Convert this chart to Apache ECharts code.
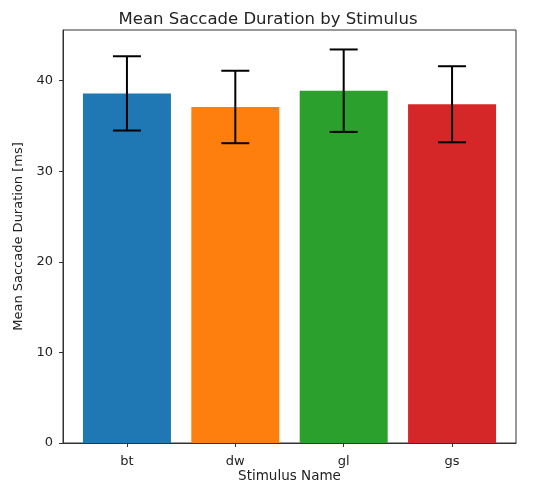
<!DOCTYPE html>
<html>
<head>
<meta charset="utf-8">
<script src="https://cdn.jsdelivr.net/npm/echarts@6/dist/echarts.min.js"></script>
<style>html,body{margin:0;padding:0;background:#fff}#c{width:536px;height:481px}</style>
</head>
<body>
<div id="c"></div>
<script>
var categories = ['bt', 'dw', 'gl', 'gs'];
var means = [38.6, 37.1, 38.9, 37.4];
var stds = [4.1, 4.0, 4.55, 4.2];
var colors = ['#1f77b4', '#ff7f0e', '#2ca02c', '#d62728'];
var yTicks = [0, 10, 20, 30, 40];

var chart = echarts.init(document.getElementById('c'), null, {renderer: 'canvas'});
var font = 'DejaVu Sans';
var barData = categories.map(function (c, i) {
  return {value: [i, means[i]], itemStyle: {color: colors[i]}};
});
var errData = categories.map(function (c, i) {
  return [i, means[i] - stds[i], means[i] + stds[i]];
});
chart.setOption({
  animation: false,
  title: {
    text: 'Mean Saccade Duration by Stimulus', left: 'center', top: 6,
    textStyle: {fontFamily: font, fontSize: 16.5, fontWeight: 'normal', color: '#222'}
  },
  grid: {left: 63, right: 20, top: 30, bottom: 38, show: true, borderColor: '#333', borderWidth: 1,
    containLabel: false, outerBoundsMode: 'none'},
  xAxis: {
    type: 'value', min: -0.59, max: 3.59,
    name: 'Stimulus Name', nameLocation: 'middle', nameGap: 26, nameMoveOverlap: false,
    nameTextStyle: {fontFamily: font, fontSize: 13.5, color: '#222'},
    splitLine: {show: false},
    axisLine: {show: true, onZero: false, lineStyle: {color: '#333'}},
    axisTick: {show: true, customValues: [0, 1, 2, 3], length: 4, lineStyle: {color: '#333'}},
    axisLabel: {customValues: [0, 1, 2, 3], fontFamily: font, fontSize: 13, color: '#222', margin: 12,
      formatter: function (v) { return categories[Math.round(v)] || ''; }}
  },
  yAxis: {
    type: 'value', min: 0, max: 45.6,
    name: 'Mean Saccade Duration [ms]', nameLocation: 'middle', nameGap: 31,
    nameTextStyle: {fontFamily: font, fontSize: 13, color: '#222'},
    splitLine: {show: false},
    axisLine: {show: true, onZero: false, lineStyle: {color: '#333'}},
    axisTick: {show: true, customValues: yTicks, length: 4, lineStyle: {color: '#333'}},
    axisLabel: {customValues: yTicks, fontFamily: font, fontSize: 13, color: '#222', margin: 10}
  },
  series: [
    {type: 'bar', data: barData, barWidth: 88},
    {
      type: 'custom', data: errData, z: 10,
      renderItem: function (params, api) {
        var x = api.value(0);
        var lo = api.coord([x, api.value(1)]);
        var hi = api.coord([x, api.value(2)]);
        var cap = 14;
        var st = {stroke: '#000', lineWidth: 2};
        return {type: 'group', children: [
          {type: 'line', shape: {x1: lo[0], y1: lo[1], x2: hi[0], y2: hi[1]}, style: st},
          {type: 'line', shape: {x1: lo[0] - cap, y1: lo[1], x2: lo[0] + cap, y2: lo[1]}, style: st},
          {type: 'line', shape: {x1: hi[0] - cap, y1: hi[1], x2: hi[0] + cap, y2: hi[1]}, style: st}
        ]};
      }
    }
  ]
});
</script>
</body>
</html>
